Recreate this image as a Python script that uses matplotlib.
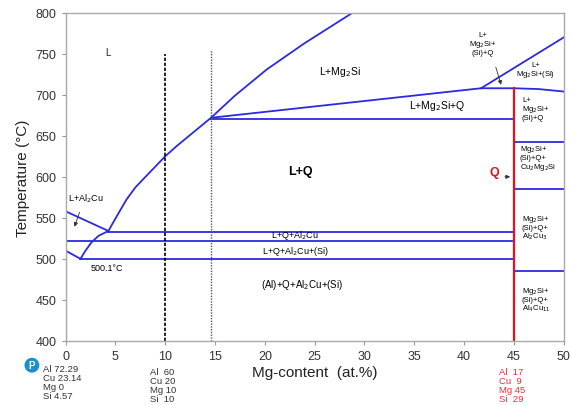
import matplotlib
matplotlib.use("Agg")
import matplotlib.pyplot as plt

plt.rcParams['font.family'] = ['Liberation Sans', 'DejaVu Sans']

# phase boundary curves (Mg at.%, temperature degC)
liq_mg = [4.3, 5.0, 6.1, 7.0, 8.1, 10.0, 11.2, 14.6, 17.0, 20.2, 24.0, 28.8]
liq_t = [534, 549, 572, 587, 601, 625, 638, 672, 699, 731, 763, 800]
al2cu_mg = [0.0, 4.3]
al2cu_t = [558, 534]
low_mg = [1.5, 2.0, 2.6, 3.3, 4.3]
low_t = [500, 510, 520, 528, 534]
left_mg = [0.0, 1.5]
left_t = [510, 500]
mg2si_q_mg = [14.6, 41.7, 45.0, 47.5, 50.0]
mg2si_q_t = [672, 708, 708, 707, 704]
si_mg = [41.7, 50.0]
si_t = [708, 770]

# horizontal invariant lines: (temperature, x start, x end)
iso_t = [533, 522, 500, 671, 643, 585, 485]
iso_x0 = [4.3, 0.0, 1.5, 14.6, 45.0, 45.0, 45.0]
iso_x1 = [45.0, 45.0, 45.0, 45.0, 50.0, 50.0, 50.0]

blue = '#2a2ae0'

fig = plt.figure(figsize=(5.7, 4.06), dpi=100)
ax = fig.add_axes([0.115, 0.158, 0.874, 0.808])

ax.plot(liq_mg, liq_t, color=blue, lw=1.3)
ax.plot(al2cu_mg, al2cu_t, color=blue, lw=1.3)
ax.plot(low_mg, low_t, color=blue, lw=1.3)
ax.plot(left_mg, left_t, color=blue, lw=1.3)
ax.plot(mg2si_q_mg, mg2si_q_t, color=blue, lw=1.3)
ax.plot(si_mg, si_t, color=blue, lw=1.3)
for t, a, b in zip(iso_t, iso_x0, iso_x1):
    ax.plot([a, b], [t, t], color=blue, lw=1.3)
ax.plot([0, 0], [400, 511], color=blue, lw=1.5)

# composition markers
ax.plot([10, 10], [400, 750], color='black', lw=1.2, ls=(0, (2, 1)))
ax.plot([14.6, 14.6], [400, 755], color='#555555', lw=1.0, ls=(0, (1, 1)))
ax.plot([45, 45], [400, 708], color='#e8101a', lw=1.6)

# region labels
fs = 6.5
ax.text(4.3, 752, 'L', fontsize=7, ha='center', va='center', color='#222222')
ax.text(27.5, 729, 'L+Mg$_2$Si', fontsize=7.5, ha='center', va='center')
ax.text(37.3, 687, 'L+Mg$_2$Si+Q', fontsize=7.5, ha='center', va='center')
ax.text(23.6, 607, 'L+Q', fontsize=9, fontweight='bold', ha='center', va='center')
ax.text(23.0, 530, 'L+Q+Al$_2$Cu', fontsize=fs, ha='center', va='center')
ax.text(23.1, 510, 'L+Q+Al$_2$Cu+(Si)', fontsize=fs, ha='center', va='center')
ax.text(23.7, 469, '(Al)+Q+Al$_2$Cu+(Si)', fontsize=7, ha='center', va='center')
ax.text(4.2, 490, '500.1°C', fontsize=fs, ha='center', va='center')
ax.text(2.0, 575, 'L+Al$_2$Cu', fontsize=fs, ha='center', va='center')
ax.annotate('', xy=(0.8, 536), xytext=(1.5, 560),
            arrowprops=dict(arrowstyle='-|>', color='#333333', lw=0.6, mutation_scale=6))
ax.text(41.9, 762, 'L+\nMg$_2$Si+\n(Si)+Q', fontsize=5.5, ha='center', va='center',
        linespacing=1.0)
ax.annotate('', xy=(43.8, 709), xytext=(43.1, 737),
            arrowprops=dict(arrowstyle='-|>', color='#333333', lw=0.6, mutation_scale=6))
ax.text(47.2, 730, 'L+\nMg$_2$Si+(Si)', fontsize=5.5, ha='center', va='center',
        linespacing=1.0)
ax.text(45.8, 683, 'L+\nMg$_2$Si+\n(Si)+Q', fontsize=5.5, ha='left', va='center',
        linespacing=1.0)
ax.text(45.6, 623, 'Mg$_2$Si+\n(Si)+Q+\nCu$_2$Mg$_2$Si', fontsize=5.5, ha='left',
        va='center', linespacing=1.0)
ax.text(45.8, 539, 'Mg$_2$Si+\n(Si)+Q+\nAl$_2$Cu$_3$', fontsize=5.5, ha='left',
        va='center', linespacing=1.0)
ax.text(45.8, 451, 'Mg$_2$Si+\n(Si)+Q+\nAl$_4$Cu$_{11}$', fontsize=5.5, ha='left',
        va='center', linespacing=1.0)
ax.text(43.0, 606, 'Q', fontsize=9, fontweight='bold', color='#e8101a',
        ha='center', va='center')
ax.annotate('', xy=(44.9, 600), xytext=(43.8, 600),
            arrowprops=dict(arrowstyle='-|>', color='#333333', lw=0.6, mutation_scale=6))

ax.set_xlim(0, 50)
ax.set_ylim(400, 800)
ax.set_xticks(range(0, 51, 5))
ax.set_yticks(range(400, 801, 50))
ax.tick_params(labelsize=9, colors='#999999', labelcolor='#333333', length=3, width=0.8)
for s in ax.spines.values():
    s.set_color('#aaaaaa')
    s.set_linewidth(1.0)
ax.set_ylabel('Temperature (°C)', fontsize=11, color='#222222', labelpad=4)
ax.set_xlabel('Mg-content  (at.%)', fontsize=11, color='#222222', labelpad=2)

# compositions below axis
ax.text(-0.046, -0.072, 'Al 72.29\nCu 23.14\nMg 0\nSi 4.57', transform=ax.transAxes,
        fontsize=6.8, va='top', ha='left', color='#333333', linespacing=0.98)
ax.text(0.169, -0.080, 'Al  60\nCu 20\nMg 10\nSi  10', transform=ax.transAxes,
        fontsize=6.8, va='top', ha='left', color='#333333', linespacing=0.98)
ax.text(0.87, -0.080, 'Al  17\nCu  9\nMg 45\nSi  29', transform=ax.transAxes,
        fontsize=6.8, va='top', ha='left', color='#e8303a', linespacing=0.98)
fig.text(0.056, 0.098, 'P', fontsize=7, fontweight='bold', color='white', ha='center',
         va='center', bbox=dict(boxstyle='circle,pad=0.25', fc='#1a8fd0', ec='none'))

fig.savefig('out.png', dpi=100)
